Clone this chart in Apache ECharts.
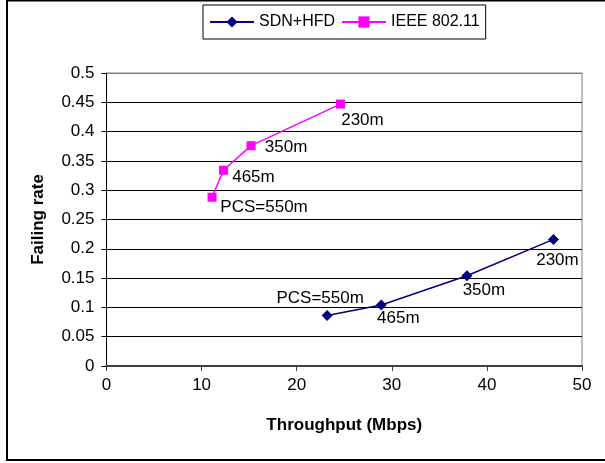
<!DOCTYPE html>
<html>
<head>
<meta charset="utf-8">
<script src="https://cdn.jsdelivr.net/npm/echarts@6/dist/echarts.min.js"></script>
<style>
html,body{margin:0;padding:0;background:#fff;}
#chart{width:605px;height:463px;}
</style>
</head>
<body>
<div id="chart"></div>
<script>
// ---- data ----
var seriesNames = ['SDN+HFD', 'IEEE 802.11'];
var sdnThroughput = [23.2, 28.9, 37.9, 47.0];
var sdnFailing    = [0.086, 0.104, 0.154, 0.216];
var sdnLabels     = ['PCS=550m', '465m', '350m', '230m'];
var ieeeThroughput = [11.1, 12.3, 15.2, 24.6];
var ieeeFailing    = [0.288, 0.334, 0.376, 0.447];
var ieeeLabels     = ['PCS=550m', '465m', '350m', '230m'];
var xTicks = [0, 10, 20, 30, 40, 50];
var yTicks = [0, 0.05, 0.1, 0.15, 0.2, 0.25, 0.3, 0.35, 0.4, 0.45, 0.5];

// ---- label placement (style only) ----
var sdnLabelOffsets  = [[-7, -17], [17, 13], [17, 15], [4, 21]];
var ieeeLabelOffsets = [[52, 10], [30, 7], [35, 2], [22, 16]];

function buildData(xs, ys, labels, offsets) {
  return xs.map(function (x, i) {
    return {
      value: [x, ys[i]],
      label: {
        show: true,
        position: 'inside',
        offset: offsets[i],
        formatter: labels[i],
        color: '#000',
        fontFamily: 'Liberation Sans, Arial, sans-serif',
        fontSize: 17
      }
    };
  });
}

var chart = echarts.init(document.getElementById('chart'), null, {renderer: 'canvas'});
var font = 'Liberation Sans, Arial, sans-serif';
var gridColors = yTicks.map(function (v, i) { return i === yTicks.length - 1 ? '#808080' : '#000'; });

chart.setOption({
  animation: false,
  backgroundColor: '#fff',
  graphic: [{
    type: 'rect',
    shape: {x: 7, y: 0.5, width: 700, height: 459.5},
    style: {fill: 'none', stroke: '#000', lineWidth: 2},
    silent: true
  }],
  legend: {
    left: 203,
    top: 5,
    padding: [9, 6],
    itemWidth: 44,
    itemHeight: 14,
    itemGap: 6,
    borderColor: '#000',
    borderWidth: 1,
    textStyle: {fontFamily: font, fontSize: 16, color: '#000'},
    data: seriesNames
  },
  grid: {
    left: 106.5,
    top: 73,
    right: 23,
    bottom: 97,
    show: true,
    borderColor: '#808080',
    borderWidth: 1
  },
  xAxis: {
    type: 'value',
    min: xTicks[0],
    max: xTicks[xTicks.length - 1],
    interval: 10,
    name: 'Throughput (Mbps)',
    nameLocation: 'middle',
    nameGap: 51,
    nameTextStyle: {fontFamily: font, fontSize: 17, fontWeight: 'bold', color: '#000'},
    axisLine: {show: true, lineStyle: {color: '#404040', width: 2}},
    axisTick: {show: true, inside: false, length: 5, lineStyle: {color: '#404040'}},
    axisLabel: {fontFamily: font, fontSize: 17, color: '#000', margin: 11},
    splitLine: {show: false}
  },
  yAxis: {
    type: 'value',
    min: yTicks[0],
    max: yTicks[yTicks.length - 1],
    interval: 0.05,
    name: 'Failing rate',
    nameLocation: 'middle',
    nameGap: 60,
    nameTextStyle: {fontFamily: font, fontSize: 17, fontWeight: 'bold', color: '#000'},
    axisLine: {show: true, lineStyle: {color: '#000', width: 1}},
    axisTick: {show: true, inside: false, length: 5, lineStyle: {color: '#000'}},
    axisLabel: {
      fontFamily: font, fontSize: 17, color: '#000', margin: 12,
      formatter: function (v) { return String(Math.round(v * 100) / 100); }
    },
    splitLine: {show: true, lineStyle: {color: gridColors, width: 1}}
  },
  series: [{
    name: seriesNames[0],
    type: 'line',
    symbol: 'diamond',
    symbolSize: 11,
    color: '#000080',
    lineStyle: {color: '#000080', width: 1.5},
    itemStyle: {color: '#000080'},
    data: buildData(sdnThroughput, sdnFailing, sdnLabels, sdnLabelOffsets)
  }, {
    name: seriesNames[1],
    type: 'line',
    symbol: 'rect',
    symbolSize: 9,
    color: '#FF00FF',
    lineStyle: {color: '#FF00FF', width: 1.5},
    itemStyle: {color: '#FF00FF'},
    data: buildData(ieeeThroughput, ieeeFailing, ieeeLabels, ieeeLabelOffsets)
  }]
});
</script>
</body>
</html>
